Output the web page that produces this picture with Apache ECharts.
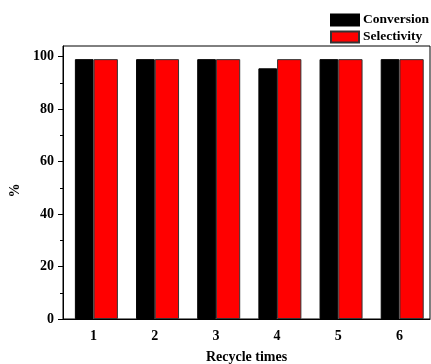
<!DOCTYPE html>
<html>
<head>
<meta charset="utf-8">
<script src="https://cdn.jsdelivr.net/npm/echarts@6/dist/echarts.min.js"></script>
<style>
  html, body { margin: 0; padding: 0; background: #fff; }
  #chart { width: 431px; height: 364px; }
</style>
</head>
<body>
<div id="chart"></div>
<script>
// data
var categories = ['1', '2', '3', '4', '5', '6'];
var conversion = [99, 99, 99, 95.5, 99, 99];
var selectivity = [99, 99, 99, 99, 99, 99];
var yMajorTicks = [0, 20, 40, 60, 80, 100];
var yMinorTicks = [10, 30, 50, 70, 90];
var spacer = [0, 0, 0, 0, 0, 0];

function renderRecycleChart() {
    var dom = document.getElementById('chart');
    var myChart = echarts.init(dom);
    var font = 'Liberation Serif';

    var option = {
        backgroundColor: '#FFFFFF',
        animation: false,
        textStyle: { fontFamily: font },
        grid: {
            left: 63,
            right: 1,
            top: 46,
            bottom: 45,
            outerBoundsMode: 'none',
            containLabel: false,
            show: true,
            borderColor: '#000',
            borderWidth: 1
        },
        legend: {
            data: ['Conversion', 'Selectivity'],
            orient: 'vertical',
            left: 325,
            top: 8,
            icon: 'rect',
            itemWidth: 28,
            itemHeight: 11,
            itemGap: 3,
            textStyle: { fontFamily: font, fontWeight: 'bold', fontSize: 13.5, color: '#000', padding: [0, 0, 0, -1] }
        },
        xAxis: [{
            type: 'category',
            data: categories,
            name: 'Recycle times',
            nameLocation: 'middle',
            nameGap: 31,
            nameTextStyle: { fontFamily: font, fontWeight: 'bold', fontSize: 14, color: '#000' },
            axisLine: { lineStyle: { color: '#000', width: 1 } },
            axisTick: { alignWithLabel: true, length: 5, lineStyle: { color: '#000' } },
            axisLabel: { margin: 10, fontFamily: font, fontWeight: 'bold', fontSize: 14, color: '#000' },
            splitLine: { show: false }
        }, {
            // boundary (minor) ticks between categories
            type: 'category',
            data: categories,
            position: 'bottom',
            axisLine: { show: false },
            axisTick: { alignWithLabel: false, length: 3, lineStyle: { color: '#000' } },
            axisLabel: { show: false },
            splitLine: { show: false }
        }],
        yAxis: [{
            type: 'value',
            min: 0,
            max: 104,
            name: '%',
            nameLocation: 'middle',
            nameGap: 32,
            nameRotate: 90,
            nameTextStyle: { fontFamily: font, fontWeight: 'bold', fontSize: 14, color: '#000', padding: [0, 16, 0, 0] },
            axisLine: { show: true, lineStyle: { color: '#000', width: 1 } },
            axisTick: { show: true, length: 5, customValues: yMajorTicks, lineStyle: { color: '#000' } },
            axisLabel: { margin: 9, customValues: yMajorTicks, fontFamily: font, fontWeight: 'bold', fontSize: 14, color: '#000' },
            splitLine: { show: false }
        }, {
            type: 'value',
            min: 0,
            max: 104,
            position: 'left',
            axisLine: { show: false },
            axisTick: { show: true, length: 3, customValues: yMinorTicks, lineStyle: { color: '#000' } },
            axisLabel: { show: false },
            splitLine: { show: false }
        }],
        series: [{
            name: 'spacer',
            type: 'bar',
            barWidth: 5.6,
            barGap: '0%',
            data: spacer,
            itemStyle: { color: 'rgba(0,0,0,0)' },
            silent: true
        }, {
            name: 'Conversion',
            type: 'bar',
            barWidth: 18.7,
            barGap: '0%',
            data: conversion,
            itemStyle: { color: '#000000', borderColor: '#000', borderWidth: 1 }
        }, {
            name: 'Selectivity',
            type: 'bar',
            barWidth: 24.3,
            barGap: '0%',
            data: selectivity,
            itemStyle: { color: '#FF0000', borderColor: '#333', borderWidth: 1 }
        }]
    };

    if (option && typeof option === 'object') {
        myChart.setOption(option);
    }
}
renderRecycleChart();
</script>
</body>
</html>
